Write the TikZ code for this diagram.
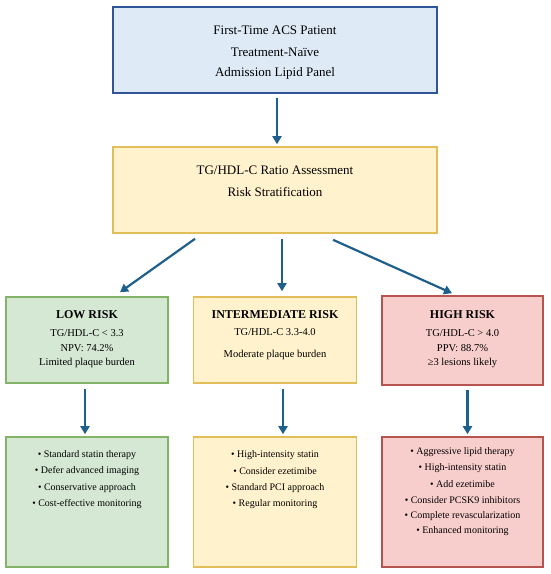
\documentclass[tikz,border=0pt]{standalone}
\usepackage{fontspec}
\setmainfont{Liberation Serif}
\usetikzlibrary{arrows.meta}
\definecolor{bluefill}{HTML}{DEEBF7}
\definecolor{blueline}{HTML}{2F5597}
\definecolor{yelfill}{HTML}{FFF2CC}
\definecolor{yelline}{HTML}{E2BE5A}
\definecolor{grnfill}{HTML}{D5E8D4}
\definecolor{grnline}{HTML}{82B366}
\definecolor{redfill}{HTML}{F8CECC}
\definecolor{redline}{HTML}{B85450}
\definecolor{arrowc}{HTML}{1F5F8B}
\tikzset{
  box/.style={draw, line width=1.6pt, inner sep=0pt},
  arr/.style={draw=arrowc, line width=2.2pt, -{Triangle[length=8pt,width=9pt]}},
  txt/.style={font=\fontsize{13}{15}\selectfont, anchor=center},
  sub/.style={font=\fontsize{10.5}{12}\selectfont, anchor=center},
  small/.style={font=\fontsize{10}{12}\selectfont, anchor=center},
  ttl/.style={font=\fontsize{12}{14}\selectfont\bfseries, anchor=center},
}
\begin{document}
\begin{tikzpicture}[x=1pt,y=-1pt]
\useasboundingbox (0,0) rectangle (550,574);
% boxes
\node[box, fill=bluefill, draw=blueline, minimum width=324pt, minimum height=86pt] (top) at (275,50) {};
\node[box, fill=yelfill, draw=yelline, minimum width=324pt, minimum height=86pt] (mid) at (275,190) {};
\node[box, fill=grnfill, draw=grnline, minimum width=162pt, minimum height=86pt] (low) at (87,340) {};
\node[box, fill=yelfill, draw=yelline, minimum width=163pt, minimum height=86pt] (int) at (275,340) {};
\node[box, fill=redfill, draw=redline, minimum width=161pt, minimum height=89pt] (high) at (462.5,340.5) {};
\node[box, fill=grnfill, draw=grnline, minimum width=162pt, minimum height=130pt] (lowb) at (87,502) {};
\node[box, fill=yelfill, draw=yelline, minimum width=163pt, minimum height=130pt] (intb) at (275,502) {};
\node[box, fill=redfill, draw=redline, minimum width=161pt, minimum height=130pt] (highb) at (462.5,502) {};
% texts
\node[txt] (t1) at (275,30) {First-Time ACS Patient};
\node[txt] (t2) at (275,52) {Treatment-Naïve};
\node[txt] (t3) at (275,73) {Admission Lipid Panel};
\node[txt] (m1) at (275,170) {TG/HDL-C Ratio Assessment};
\node[txt] (m2) at (275,192) {Risk Stratification};
\node[ttl] (l1) at (87,315) {LOW RISK};
\node[sub] (l2) at (87,333) {TG/HDL-C < 3.3};
\node[sub] (l3) at (87,348) {NPV: 74.2\%};
\node[sub] (l4) at (87,363) {Limited plaque burden};
\node[ttl] (i1) at (275,315) {INTERMEDIATE RISK};
\node[sub] (i2) at (275,332) {TG/HDL-C 3.3-4.0};
\node[sub] (i3) at (275,355) {Moderate plaque burden};
\node[ttl] (h1) at (462.5,315) {HIGH RISK};
\node[sub] (h2) at (462.5,333) {TG/HDL-C > 4.0};
\node[sub] (h3) at (462.5,348) {PPV: 88.7\%};
\node[sub] (h4) at (462.5,363) {≥3 lesions likely};
\node[small] (lb1) at (87,455) {\textbullet\ Standard statin therapy};
\node[small] (lb2) at (87,471.5) {\textbullet\ Defer advanced imaging};
\node[small] (lb3) at (87,488) {\textbullet\ Conservative approach};
\node[small] (lb4) at (87,504) {\textbullet\ Cost-effective monitoring};
\node[small] (ib1) at (275,455) {\textbullet\ High-intensity statin};
\node[small] (ib2) at (275,471.5) {\textbullet\ Consider ezetimibe};
\node[small] (ib3) at (275,488) {\textbullet\ Standard PCI approach};
\node[small] (ib4) at (275,504) {\textbullet\ Regular monitoring};
\node[small] (hb1) at (462.5,452) {\textbullet\ Aggressive lipid therapy};
\node[small] (hb2) at (462.5,468) {\textbullet\ High-intensity statin};
\node[small] (hb3) at (462.5,484) {\textbullet\ Add ezetimibe};
\node[small] (hb4) at (462.5,500) {\textbullet\ Consider PCSK9 inhibitors};
\node[small] (hb5) at (462.5,516) {\textbullet\ Complete revascularization};
\node[small] (hb6) at (462.5,531) {\textbullet\ Enhanced monitoring};
% arrows (yshift is in canvas units: negative = downward)
\draw[arr] ([xshift=2pt,yshift=-4pt]top.south) -- ([xshift=2pt,yshift=2pt]mid.north);
\draw[arr] ([xshift=-80pt,yshift=-5pt]mid.south) -- ([xshift=33pt,yshift=4pt]low.north);
\draw[arr] ([xshift=7pt,yshift=-5pt]mid.south) -- ([xshift=7pt,yshift=5pt]int.north);
\draw[arr] ([xshift=58pt,yshift=-6pt]mid.south) -- ([xshift=-10.5pt,yshift=2pt]high.north);
\draw[arr] ([xshift=-2pt,yshift=-5pt]low.south) -- ([xshift=-2pt,yshift=2pt]lowb.north);
\draw[arr] ([xshift=8pt,yshift=-5pt]int.south) -- ([xshift=8pt,yshift=2pt]intb.north);
\draw[arr] ([xshift=5pt,yshift=-4pt]high.south) -- ([xshift=5pt,yshift=2pt]highb.north);
\end{tikzpicture}
\end{document}
